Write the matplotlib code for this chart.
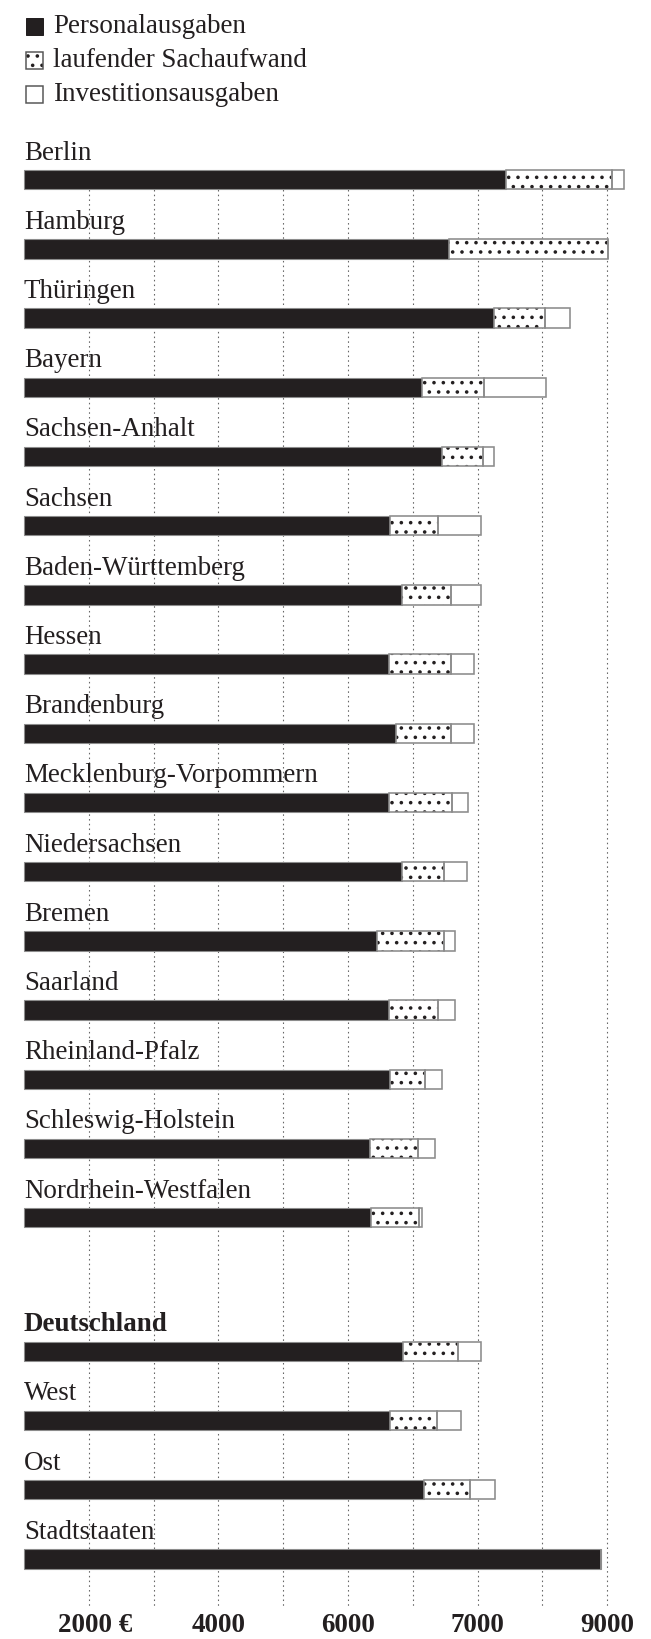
import matplotlib
matplotlib.use("Agg")
import matplotlib.pyplot as plt
from matplotlib.patches import Rectangle

# Ausgaben je Einwohner (geschaetzt aus der Vorlage)
laender = ["Berlin", "Hamburg", "Thüringen", "Bayern", "Sachsen-Anhalt", "Sachsen",
           "Baden-Württemberg", "Hessen", "Brandenburg", "Mecklenburg-Vorpommern",
           "Niedersachsen", "Bremen", "Saarland", "Rheinland-Pfalz",
           "Schleswig-Holstein", "Nordrhein-Westfalen",
           "Deutschland", "West", "Ost", "Stadtstaaten"]
personal = [7440, 6560, 7260, 6145, 6445, 5650, 5835, 5635, 5740, 5640,
            5835, 5450, 5635, 5650, 5340, 5355,
            5855, 5650, 6170, 8910]
sachaufwand = [1630, 2460, 780, 955, 640, 740, 755, 950, 845, 960,
               650, 1025, 760, 545, 745, 740,
               835, 730, 715, 0]
investition = [190, 0, 380, 955, 170, 660, 460, 365, 365, 245,
               355, 175, 255, 250, 265, 45,
               360, 360, 380, 0]
grid_werte = [1000, 2000, 3000, 4000, 5000, 6000, 7000, 8000, 9000]
tick_pos = [1000, 3000, 5000, 7000, 9000]
tick_txt = ["2000 €", "4000", "6000", "7000", "9000"]
legende = ["Personalausgaben", "laufender Sachaufwand", "Investitionsausgaben"]

W, H = 651, 1639
DPI = 56   # hatch cell = DPI/6 px -> sparse dots like the print
PT = 72.0 / DPI   # points per pixel


def px(v):
    return v * PT


INK = "#231f20"
EDGE = "#8c8c8c"
plt.rcParams["font.family"] = ["Liberation Serif", "DejaVu Serif"]
plt.rcParams["hatch.linewidth"] = px(1.7)
FS = px(27)

# layout in pixels
x0_px = 24.0          # value 0
px_per_1000 = 64.8
row0_px = 179.7
row_px = 69.2

fig = plt.figure(figsize=(W / DPI, H / DPI), dpi=DPI)
ax = fig.add_axes([0, 0, 1, 1])
ax.set_xlim(-x0_px / px_per_1000 * 1000, (W - x0_px) / px_per_1000 * 1000)
ax.set_ylim((H - row0_px) / row_px, -row0_px / row_px)
ax.axis("off")

rows = list(range(16)) + [16.93, 17.93, 18.93, 19.93]
bh = 19.5 / row_px

ax.vlines(grid_werte, 0, (1606 - row0_px) / row_px, colors="#666666",
          linestyles=(0, (1.4, 2.9)), linewidth=px(1.1), zorder=1)

left_s = [p for p in personal]
left_i = [p + s for p, s in zip(personal, sachaufwand)]

ax.barh(rows, personal, height=bh, color=INK, edgecolor=EDGE, linewidth=px(1.1), zorder=3)
ax.barh(rows, sachaufwand, left=left_s, height=bh, color="white",
        edgecolor=INK, linewidth=0, hatch=".", zorder=3)
ax.barh(rows, sachaufwand, left=left_s, height=bh, color="none",
        edgecolor=EDGE, linewidth=px(1.6), zorder=4)
ax.barh(rows, investition, left=left_i, height=bh, color="white",
        edgecolor=EDGE, linewidth=px(1.6), zorder=3)

for name, r in zip(laender, rows):
    ax.text(0, r - 0.29, name, fontsize=FS, color=INK, va="baseline", ha="left",
            fontweight="bold" if name == "Deutschland" else "normal")

# x labels
ov = fig.add_axes([0, 0, 1, 1])
ov.set_xlim(0, W)
ov.set_ylim(H, 0)
ov.axis("off")
ov.patch.set_alpha(0)

y_lab = 1632
for v, t in zip(tick_pos, tick_txt):
    xp = x0_px + v / 1000 * px_per_1000
    if "€" in t:
        ov.text(xp - 31, y_lab, t, fontsize=FS, fontweight="bold", color=INK,
                ha="left", va="baseline")
    else:
        ov.text(xp, y_lab, t, fontsize=FS, fontweight="bold", color=INK,
                ha="center", va="baseline")

# legend
leg_y = [26, 60, 94]
sq = 17
for i, (lab, y) in enumerate(zip(legende, leg_y)):
    if i == 0:
        ov.add_patch(Rectangle((26, y - sq / 2), sq, sq, facecolor=INK, edgecolor=INK, lw=px(1)))
    elif i == 1:
        ov.add_patch(Rectangle((26, y - sq / 2), sq, sq, facecolor="white",
                               edgecolor=INK, lw=0, hatch="."))
        ov.add_patch(Rectangle((26, y - sq / 2), sq, sq, facecolor="none",
                               edgecolor="#555555", lw=px(1.5)))
    else:
        ov.add_patch(Rectangle((26, y - sq / 2), sq, sq, facecolor="white",
                               edgecolor="#555555", lw=px(1.5)))
    ov.text(53, y + 7, lab, fontsize=FS, color=INK, ha="left", va="baseline")

fig.savefig("out.png", dpi=DPI)
